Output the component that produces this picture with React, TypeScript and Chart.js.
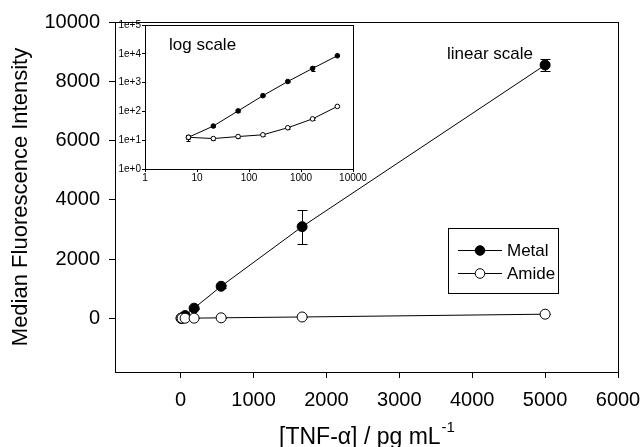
import React, { useEffect, useRef } from "react";
import { Chart, registerables } from "chart.js";
Chart.register(...registerables);

// ---- data ----
const concentrations = [6.86, 20.6, 61.7, 185, 556, 1667, 5000];
const metalValues = [12.6, 31, 104, 352, 1090, 3100, 8550];
const metalErrors = [3, 3, 8, 20, 60, 570, 200];
const amideValues = [12.6, 11.4, 13.4, 15.4, 27, 55, 149];
const amideErrors = [2, 1, 1, 1, 2, 4, 8];
const seriesNames = ["Metal", "Amide"];
const mainXTicks = [0, 1000, 2000, 3000, 4000, 5000, 6000];
const mainYTicks = [0, 2000, 4000, 6000, 8000, 10000];
const insetXTicks = [1, 10, 100, 1000, 10000];
const insetYTicks = [1, 10, 100, 1000, 10000, 100000];
const insetYLabels = ["1e+0", "1e+1", "1e+2", "1e+3", "1e+4", "1e+5"];
const yTitle = "Median Fluorescence Intensity";
const xTitleMain = "[TNF-\u03b1] / pg mL";
const xTitleSup = "-1";
const linearNote = "linear scale";
const logNote = "log scale";

const FONT = "'Liberation Sans', Arial, Helvetica, sans-serif";

function makeDatasets(radius: number) {
  return [
    {
      label: seriesNames[0],
      data: concentrations.map((x, i) => ({ x, y: metalValues[i] })),
      showLine: true,
      borderColor: "#000",
      borderWidth: 1,
      pointRadius: radius,
      pointBackgroundColor: "#000",
      pointBorderColor: "#000",
      pointBorderWidth: 1,
      order: 1,
    },
    {
      label: seriesNames[1],
      data: concentrations.map((x, i) => ({ x, y: amideValues[i] })),
      showLine: true,
      borderColor: "#000",
      borderWidth: 1,
      pointRadius: radius,
      pointBackgroundColor: "#fff",
      pointBorderColor: "#000",
      pointBorderWidth: 1,
      order: 0,
    },
  ];
}

function errorBarPlugin(capHalf: number) {
  const errs = [metalErrors, amideErrors];
  return {
    id: "errorBars",
    beforeDatasetsDraw(chart: any) {
      const ctx = chart.ctx;
      const xs = chart.scales.x;
      const ys = chart.scales.y;
      ctx.save();
      ctx.strokeStyle = "#000";
      ctx.lineWidth = 1;
      chart.data.datasets.forEach((ds: any, di: number) => {
        const e = errs[di];
        ds.data.forEach((p: any, i: number) => {
          const err = e[i];
          if (!err) return;
          const x = Math.round(xs.getPixelForValue(p.x)) + 0.5;
          let lo = p.y - err;
          if (ys.type === "logarithmic" && lo <= 0) lo = ys.min;
          const yT = Math.round(ys.getPixelForValue(p.y + err)) + 0.5;
          const yB = Math.round(ys.getPixelForValue(lo)) + 0.5;
          ctx.beginPath();
          ctx.moveTo(x, yT);
          ctx.lineTo(x, yB);
          ctx.moveTo(x - capHalf, yT);
          ctx.lineTo(x + capHalf, yT);
          ctx.moveTo(x - capHalf, yB);
          ctx.lineTo(x + capHalf, yB);
          ctx.stroke();
        });
      });
      ctx.restore();
    },
  };
}

const framePlugin = {
  id: "frame",
  afterDraw(chart: any) {
    const { left, top, right, bottom } = chart.chartArea;
    const ctx = chart.ctx;
    ctx.save();
    ctx.strokeStyle = "#000";
    ctx.lineWidth = 1;
    ctx.strokeRect(Math.round(left) + 0.5, Math.round(top) + 0.5, Math.round(right - left), Math.round(bottom - top));
    ctx.restore();
  },
};

const mainTextPlugin = {
  id: "mainText",
  afterDraw(chart: any) {
    const ctx = chart.ctx;
    const { left, top, right, bottom } = chart.chartArea;
    ctx.save();
    ctx.fillStyle = "#000";
    // y title
    ctx.font = `22px ${FONT}`;
    ctx.textAlign = "center";
    ctx.textBaseline = "middle";
    ctx.translate(21, (top + bottom) / 2);
    ctx.rotate(-Math.PI / 2);
    ctx.fillText(yTitle, 0, 0);
    ctx.setTransform(1, 0, 0, 1, 0, 0);
    // x title with superscript
    ctx.font = `23px ${FONT}`;
    const w1 = ctx.measureText(xTitleMain).width;
    ctx.font = `15px ${FONT}`;
    const w2 = ctx.measureText(xTitleSup).width;
    const cx = (left + right) / 2;
    const x0 = cx - (w1 + w2) / 2;
    const base = 444;
    ctx.textAlign = "left";
    ctx.textBaseline = "alphabetic";
    ctx.font = `23px ${FONT}`;
    ctx.fillText(xTitleMain, x0, base);
    ctx.font = `15px ${FONT}`;
    ctx.fillText(xTitleSup, x0 + w1 + 1, base - 12);
    // note
    ctx.font = `17px ${FONT}`;
    ctx.textBaseline = "middle";
    ctx.fillText(linearNote, 447, 54);
    // legend
    const lx = 448, ly = 228, lw = 110, lh = 65;
    ctx.lineWidth = 1;
    ctx.strokeStyle = "#000";
    ctx.strokeRect(lx + 0.5, ly + 0.5, lw, lh);
    const rows = [250, 273];
    const fills = ["#000", "#fff"];
    rows.forEach((ry, i) => {
      ctx.beginPath();
      ctx.moveTo(458, ry + 0.5);
      ctx.lineTo(502, ry + 0.5);
      ctx.stroke();
      ctx.beginPath();
      ctx.arc(480, ry + 0.5, 4.8, 0, Math.PI * 2);
      ctx.fillStyle = fills[i];
      ctx.fill();
      ctx.stroke();
      ctx.fillStyle = "#000";
      ctx.font = `17px ${FONT}`;
      ctx.textAlign = "left";
      ctx.textBaseline = "middle";
      ctx.fillText(seriesNames[i], 507, ry + 1);
    });
    ctx.restore();
  },
};

const insetTextPlugin = {
  id: "insetText",
  beforeDraw(chart: any) {
    const { left, top, right, bottom } = chart.chartArea;
    const ctx = chart.ctx;
    ctx.save();
    ctx.fillStyle = "#fff";
    ctx.fillRect(left, top, right - left, bottom - top);
    ctx.restore();
  },
  afterDraw(chart: any) {
    const ctx = chart.ctx;
    ctx.save();
    ctx.fillStyle = "#000";
    ctx.font = `17px ${FONT}`;
    ctx.textAlign = "left";
    ctx.textBaseline = "middle";
    ctx.fillText(logNote, 69, 35);
    ctx.restore();
  },
};

function axisCommon(tickLen: number) {
  return {
    border: { display: false },
    grid: {
      display: true,
      drawOnChartArea: false,
      drawTicks: true,
      tickLength: tickLen,
      color: "#000",
      lineWidth: 1,
    },
  };
}

function zeroPad(s: any) {
  s.paddingLeft = 0;
  s.paddingRight = 0;
  s.paddingTop = 0;
  s.paddingBottom = 0;
}

export default function App() {
  const mainRef = useRef<HTMLCanvasElement | null>(null);
  const insetRef = useRef<HTMLCanvasElement | null>(null);

  useEffect(() => {
    const main = new Chart(mainRef.current as HTMLCanvasElement, {
      type: "scatter",
      data: { datasets: makeDatasets(5) as any },
      options: {
        responsive: false,
        animation: false,
        events: [],
        layout: { padding: { top: 22, right: 23, left: 0, bottom: 0 } },
        plugins: { legend: { display: false }, tooltip: { enabled: false } },
        scales: {
          x: {
            type: "linear",
            min: -900,
            max: 6000,
            ...axisCommon(6),
            afterBuildTicks: (s: any) => {
              s.ticks = mainXTicks.map((v) => ({ value: v }));
            },
            afterFit: (s: any) => {
              s.height = 75;
              zeroPad(s);
            },
            ticks: {
              autoSkip: false,
              maxRotation: 0,
              padding: 10,
              color: "#000",
              font: { family: FONT, size: 20 },
              callback: (v: any) => String(v),
            },
          },
          y: {
            type: "linear",
            min: -1800,
            max: 10000,
            ...axisCommon(6),
            afterBuildTicks: (s: any) => {
              s.ticks = mainYTicks.map((v) => ({ value: v }));
            },
            afterFit: (s: any) => {
              s.width = 115;
              zeroPad(s);
            },
            ticks: {
              autoSkip: false,
              padding: 9,
              color: "#000",
              font: { family: FONT, size: 20 },
              callback: (v: any) => String(v),
            },
          },
        },
      } as any,
      plugins: [errorBarPlugin(5), framePlugin, mainTextPlugin],
    });

    const inset = new Chart(insetRef.current as HTMLCanvasElement, {
      type: "scatter",
      data: { datasets: makeDatasets(2.3) as any },
      options: {
        responsive: false,
        animation: false,
        events: [],
        layout: { padding: { top: 15, right: 17, left: 0, bottom: 0 } },
        plugins: { legend: { display: false }, tooltip: { enabled: false } },
        scales: {
          x: {
            type: "logarithmic",
            min: 1,
            max: 10000,
            ...axisCommon(3),
            afterBuildTicks: (s: any) => {
              s.ticks = insetXTicks.map((v) => ({ value: v }));
            },
            afterFit: (s: any) => {
              s.height = 21;
              zeroPad(s);
            },
            ticks: {
              autoSkip: false,
              maxRotation: 0,
              padding: 0,
              color: "#000",
              font: { family: FONT, size: 10 },
              callback: (v: any) => String(v),
            },
          },
          y: {
            type: "logarithmic",
            min: 1,
            max: 100000,
            ...axisCommon(3),
            afterBuildTicks: (s: any) => {
              s.ticks = insetYTicks.map((v) => ({ value: v }));
            },
            afterFit: (s: any) => {
              s.width = 45;
              zeroPad(s);
            },
            ticks: {
              autoSkip: false,
              padding: 1,
              color: "#000",
              font: { family: FONT, size: 10 },
              callback: (v: any) => {
                const idx = insetYTicks.indexOf(Number(v));
                return idx >= 0 ? insetYLabels[idx] : "";
              },
            },
          },
        },
      } as any,
      plugins: [insetTextPlugin, errorBarPlugin(2), framePlugin],
    });

    return () => {
      main.destroy();
      inset.destroy();
    };
  }, []);

  return (
    <div style={{ position: "fixed", left: 0, top: 0, width: 641, height: 447, background: "#fff" }}>
      <canvas ref={mainRef} width={641} height={447} style={{ position: "absolute", left: 0, top: 0, width: 641, height: 447 }} />
      <canvas ref={insetRef} width={270} height={180} style={{ position: "absolute", left: 100, top: 10, width: 270, height: 180 }} />
    </div>
  );
}
